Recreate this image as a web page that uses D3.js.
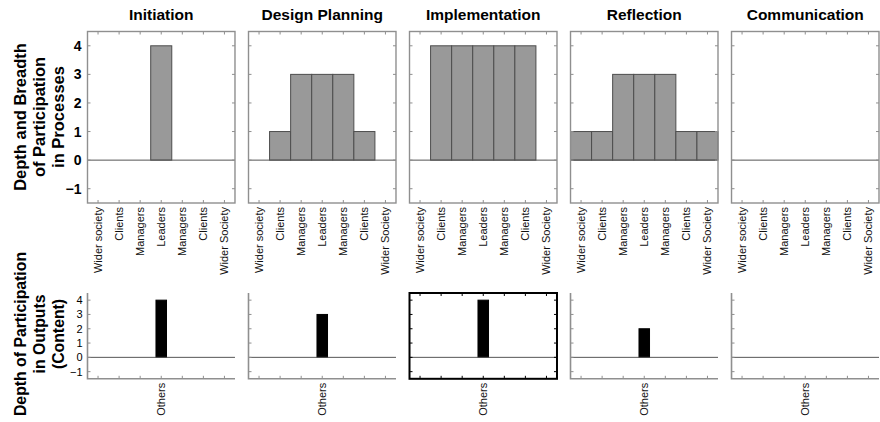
<!DOCTYPE html>
<html>
<head>
<meta charset="utf-8">
<script src="https://cdn.jsdelivr.net/npm/d3@7"></script>
<style>
  html, body { margin: 0; padding: 0; background: #fff; }
  svg { display: block; font-family: "Liberation Sans", Arial, Helvetica, sans-serif; }
</style>
</head>
<body>
<svg id="chart" width="880" height="422"></svg>
<script>
// Project phases (one column of panels each)
const phases = ["Initiation", "Design Planning", "Implementation", "Reflection", "Communication"];

// Stakeholder groups along the x axis of the process panels
const groups = ["Wider society", "Clients", "Managers", "Leaders", "Managers", "Clients", "Wider Society"];

// Depth and breadth of participation in processes, per phase
const initiationProcess     = [0, 0, 0, 4, 0, 0, 0];
const designPlanningProcess = [0, 1, 3, 3, 3, 1, 0];
const implementationProcess = [0, 4, 4, 4, 4, 4, 0];
const reflectionProcess     = [1, 1, 3, 3, 3, 1, 1];
const communicationProcess  = [0, 0, 0, 0, 0, 0, 0];

// Depth of participation in outputs (content), per phase
const outputValues = [4, 3, 4, 2, 0];
const outputLabel = "Others";

// Shared y ticks
const yTicks = [-1, 0, 1, 2, 3, 4];
const yDomain = [-1.5, 4.5];

const processTable = [initiationProcess, designPlanningProcess, implementationProcess,
                      reflectionProcess, communicationProcess];

const svg = d3.select("#chart");

const panelX = d3.scaleBand().domain(phases).range([87.5, 879]).paddingInner(0.084);
const pw = panelX.bandwidth();

const yTop = d3.scaleLinear().domain(yDomain).range([203, 31.5]);
const yBot = d3.scaleLinear().domain(yDomain).range([378.8, 293]);

const axisGray = "#8f8f8f";
const tickLen = 3;

phases.forEach((phase, i) => {
  const x0 = panelX(phase);
  const x = d3.scaleLinear().domain([0.5, 7.5]).range([x0, x0 + pw]);
  const positions = d3.range(1, 8);

  // ---------- title ----------
  svg.append("text")
    .attr("x", x0 + pw / 2).attr("y", 20)
    .attr("text-anchor", "middle")
    .attr("font-size", 15.5).attr("font-weight", "bold")
    .text(phase);

  // ---------- process panel ----------
  const gT = svg.append("g");
  const vals = processTable[i];
  const [yb, yt] = yTop.range();

  gT.selectAll("rect.bar").data(vals.map((v, k) => ({ v, k })).filter(d => d.v !== 0))
    .join("rect")
    .attr("x", d => x(d.k + 1 - 0.5))
    .attr("width", d => x(d.k + 1.5) - x(d.k + 0.5))
    .attr("y", d => yTop(Math.max(0, d.v)))
    .attr("height", d => Math.abs(yTop(d.v) - yTop(0)))
    .attr("fill", "#999999")
    .attr("stroke", "#4d4d4d").attr("stroke-width", 1);

  // baseline
  gT.append("line")
    .attr("x1", x0).attr("x2", x0 + pw)
    .attr("y1", yTop(0)).attr("y2", yTop(0))
    .attr("stroke", "#555").attr("stroke-width", 1);

  // ticks (inside, all four sides)
  positions.forEach(p => {
    gT.append("line").attr("x1", x(p)).attr("x2", x(p)).attr("y1", yt).attr("y2", yt + tickLen)
      .attr("stroke", axisGray);
    gT.append("line").attr("x1", x(p)).attr("x2", x(p)).attr("y1", yb).attr("y2", yb - tickLen)
      .attr("stroke", axisGray);
  });
  yTicks.forEach(t => {
    gT.append("line").attr("x1", x0).attr("x2", x0 + tickLen).attr("y1", yTop(t)).attr("y2", yTop(t))
      .attr("stroke", axisGray);
    gT.append("line").attr("x1", x0 + pw).attr("x2", x0 + pw - tickLen).attr("y1", yTop(t)).attr("y2", yTop(t))
      .attr("stroke", axisGray);
  });

  // box
  gT.append("rect")
    .attr("x", x0).attr("y", yt).attr("width", pw).attr("height", yb - yt)
    .attr("fill", "none").attr("stroke", axisGray).attr("stroke-width", 1.4);

  // x labels (rotated)
  gT.selectAll("text.xl").data(groups).join("text")
    .attr("transform", (d, k) => `translate(${x(k + 1)},${yb + 4}) rotate(-90)`)
    .attr("text-anchor", "end")
    .attr("dy", "0.35em")
    .attr("font-size", 11)
    .attr("fill", "#111")
    .text(d => d);

  // y labels on first panel only
  if (i === 0) {
    gT.selectAll("text.yl").data(yTicks).join("text")
      .attr("x", x0 - 6).attr("y", d => yTop(d))
      .attr("dy", "0.36em")
      .attr("text-anchor", "end")
      .attr("font-size", 14).attr("font-weight", "bold")
      .text(d => d < 0 ? "\u2212" + Math.abs(d) : d);
  }

  // ---------- output panel ----------
  const gB = svg.append("g");
  const [bb, bt] = yBot.range();
  const ov = outputValues[i];
  const boxed = phase === "Implementation";

  if (ov !== 0) {
    gB.append("rect")
      .attr("x", x(4 - 0.25)).attr("width", x(4.25) - x(3.75))
      .attr("y", yBot(Math.max(0, ov)))
      .attr("height", Math.abs(yBot(ov) - yBot(0)))
      .attr("fill", "#000").attr("stroke", "#000").attr("stroke-width", 1);
  }

  gB.append("line")
    .attr("x1", x0).attr("x2", x0 + pw)
    .attr("y1", yBot(0)).attr("y2", yBot(0))
    .attr("stroke", "#555").attr("stroke-width", 1);

  const edge = boxed ? "#000" : axisGray;
  positions.forEach(p => {
    gB.append("line").attr("x1", x(p)).attr("x2", x(p)).attr("y1", bb).attr("y2", bb - tickLen)
      .attr("stroke", edge);
    if (boxed) {
      gB.append("line").attr("x1", x(p)).attr("x2", x(p)).attr("y1", bt).attr("y2", bt + tickLen)
        .attr("stroke", edge);
    }
  });
  yTicks.forEach(t => {
    gB.append("line").attr("x1", x0).attr("x2", x0 + tickLen).attr("y1", yBot(t)).attr("y2", yBot(t))
      .attr("stroke", edge);
    if (boxed) {
      gB.append("line").attr("x1", x0 + pw).attr("x2", x0 + pw - tickLen).attr("y1", yBot(t)).attr("y2", yBot(t))
        .attr("stroke", edge);
    }
  });

  if (boxed) {
    gB.append("rect")
      .attr("x", x0).attr("y", bt).attr("width", pw).attr("height", bb - bt)
      .attr("fill", "none").attr("stroke", "#000").attr("stroke-width", 2);
  } else {
    gB.append("path")
      .attr("d", `M${x0},${bt}V${bb}H${x0 + pw}`)
      .attr("fill", "none").attr("stroke", axisGray).attr("stroke-width", 1.6);
  }

  gB.append("text")
    .attr("transform", `translate(${x(4)},${bb + 4}) rotate(-90)`)
    .attr("text-anchor", "end").attr("dy", "0.35em")
    .attr("font-size", 11).attr("fill", "#111")
    .text(outputLabel);

  if (i === 0) {
    gB.selectAll("text.yl").data(yTicks).join("text")
      .attr("x", x0 - 5).attr("y", d => yBot(d))
      .attr("dy", "0.36em")
      .attr("text-anchor", "end")
      .attr("font-size", 11)
      .text(d => d < 0 ? "\u2212" + Math.abs(d) : d);
  }
});

// ---------- row titles ----------
function rowTitle(lines, cy, xs, size) {
  lines.forEach((t, k) => {
    svg.append("text")
      .attr("transform", `translate(${xs[k]},${cy}) rotate(-90)`)
      .attr("text-anchor", "middle")
      .attr("font-size", size).attr("font-weight", "bold")
      .text(t);
  });
}
rowTitle(["Depth and Breadth", "of Participation", "in Processes"],
         117, [26, 45, 64], 16.5);
rowTitle(["Depth of Participation", "in Outputs", "(Content)"],
         334, [26, 45, 64], 15.8);
</script>
</body>
</html>
